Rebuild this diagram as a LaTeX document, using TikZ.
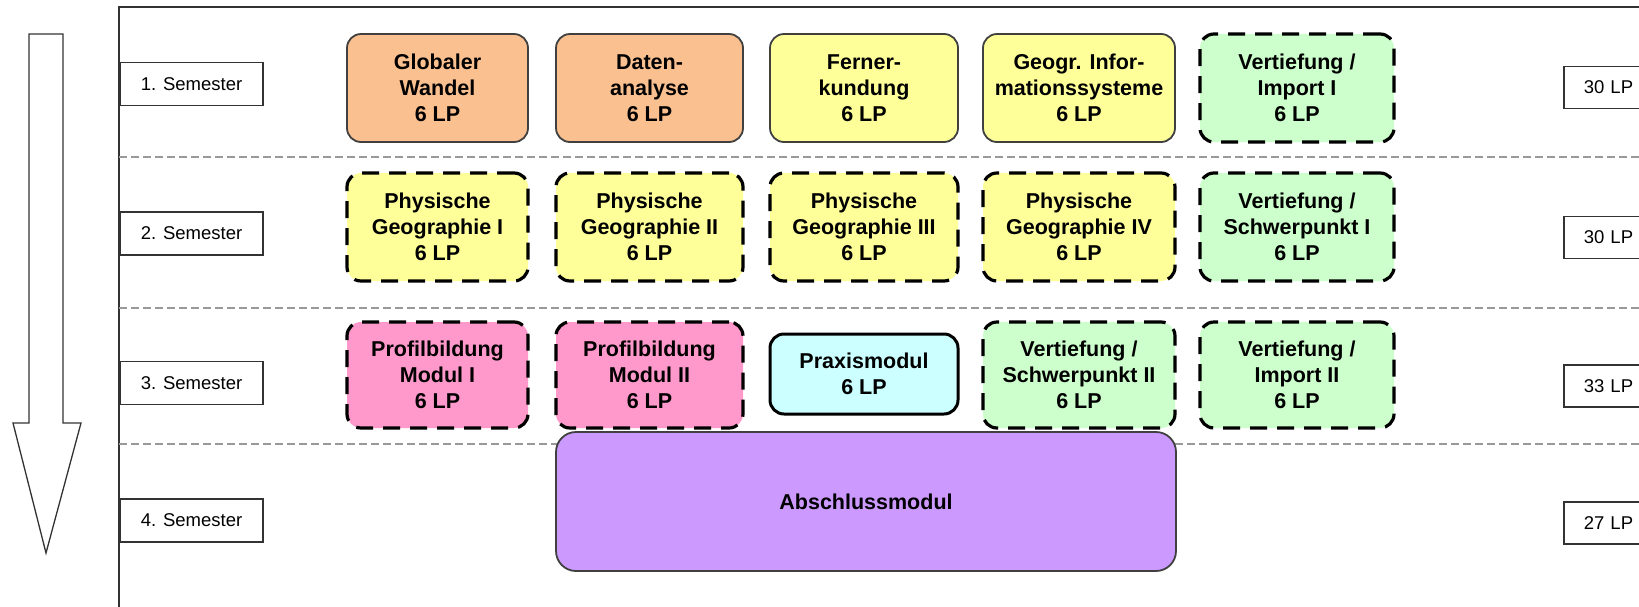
\documentclass[tikz,border=0pt]{standalone}
\usepackage{fontspec}
\setmainfont{Liberation Sans}
\newcommand\modfont{\fontsize{21.5}{26}\selectfont\bfseries}
\newcommand\semfont{\fontsize{18.5}{22}\selectfont}
\definecolor{orangeM}{HTML}{FAC090}
\definecolor{yellowM}{HTML}{FFFF99}
\definecolor{greenM}{HTML}{CCFFCC}
\definecolor{pinkM}{HTML}{FF99CC}
\definecolor{cyanM}{HTML}{CCFFFF}
\definecolor{purpleM}{HTML}{CC99FF}
\begin{document}
\begin{tikzpicture}[x=1pt,y=-1pt,
  mod/.style={rounded corners=14pt, align=center, font=\modfont, inner sep=0pt},
  solidmod/.style={mod, draw=black!75, line width=1.8pt},
  dashmod/.style={mod, draw=black, line width=3.2pt, dash pattern=on 17pt off 10pt},
  praxmod/.style={mod, draw=black, line width=3pt},
  sem/.style={draw=black!80, line width=1.5pt, font=\semfont, minimum width=143pt, minimum height=43pt, inner sep=0pt},
  lp/.style={draw=black!80, line width=1.5pt, font=\semfont, text width=90pt, align=left, inner xsep=20pt, minimum height=42pt, anchor=west},
  sep/.style={draw=black!40, line width=1.4pt, dash pattern=on 8pt off 4pt},
  frame/.style={draw=black!80, line width=1.5pt}
]
\useasboundingbox (0,0) rectangle (1639,606);
\clip (0,0) rectangle (1639,606);
\fill[white] (0,0) rectangle (1639,606);

% frame
\draw[frame] (119,700) -- (119,7) -- (1700,7);

% separators
\draw[sep] (119,157) -- (1639,157);
\draw[sep] (119,308) -- (1639,308);
\draw[sep] (119,444) -- (1639,444);

% big arrow
\draw[draw=black!80, line width=1.3pt, fill=white]
  (29,34) -- (63,34) -- (63,423) -- (81,423) -- (46,553) -- (13,423) -- (29,423) -- cycle;

% semester labels
\node[sem] (s1) at (191.5,84) {1. Semester};
\node[sem] (s2) at (191.5,233.5) {2. Semester};
\node[sem] (s3) at (191.5,383) {3. Semester};
\node[sem] (s4) at (191.5,520.5) {4. Semester};

% LP labels
\node[lp] (lp1) at (1563,87.5) {30 LP};
\node[lp] (lp2) at (1563,237.5) {30 LP};
\node[lp] (lp3) at (1563,386) {33 LP};
\node[lp] (lp4) at (1563,523) {27 LP};

% row 1
\node[solidmod, fill=orangeM, minimum width=181pt, minimum height=108pt] (m11) at (437.5,88) {Globaler\\Wandel\\6 LP};
\node[solidmod, fill=orangeM, minimum width=187pt, minimum height=108pt] (m12) at (649.5,88) {Daten-\\analyse\\6 LP};
\node[solidmod, fill=yellowM, minimum width=188pt, minimum height=108pt] (m13) at (864,88) {Ferner-\\kundung\\6 LP};
\node[solidmod, fill=yellowM, minimum width=192pt, minimum height=108pt] (m14) at (1079,88) {Geogr. Infor-\\mationssysteme\\6 LP};
\node[dashmod, fill=greenM, minimum width=194pt, minimum height=108pt] (m15) at (1297,88) {Vertiefung /\\Import I\\6 LP};

% row 2
\node[dashmod, fill=yellowM, minimum width=181pt, minimum height=108pt] (m21) at (437.5,227) {Physische\\Geographie I\\6 LP};
\node[dashmod, fill=yellowM, minimum width=187pt, minimum height=108pt] (m22) at (649.5,227) {Physische\\Geographie II\\6 LP};
\node[dashmod, fill=yellowM, minimum width=188pt, minimum height=108pt] (m23) at (864,227) {Physische\\Geographie III\\6 LP};
\node[dashmod, fill=yellowM, minimum width=192pt, minimum height=108pt] (m24) at (1079,227) {Physische\\Geographie IV\\6 LP};
\node[dashmod, fill=greenM, minimum width=194pt, minimum height=108pt] (m25) at (1297,227) {Vertiefung /\\Schwerpunkt I\\6 LP};

% row 3
\node[dashmod, fill=pinkM, minimum width=181pt, minimum height=106pt] (m31) at (437.5,375) {Profilbildung\\Modul I\\6 LP};
\node[dashmod, fill=pinkM, minimum width=187pt, minimum height=106pt] (m32) at (649.5,375) {Profilbildung\\Modul II\\6 LP};
\node[praxmod, fill=cyanM, minimum width=188pt, minimum height=80pt] (m33) at (864,374) {Praxismodul\\6 LP};
\node[dashmod, fill=greenM, minimum width=192pt, minimum height=106pt] (m34) at (1079,375) {Vertiefung /\\Schwerpunkt II\\6 LP};
\node[dashmod, fill=greenM, minimum width=194pt, minimum height=106pt] (m35) at (1297,375) {Vertiefung /\\Import II\\6 LP};

% row 4
\node[solidmod, rounded corners=20pt, fill=purpleM, minimum width=620pt, minimum height=139pt] (m4) at (866,501.5) {Abschlussmodul};
\end{tikzpicture}
\end{document}
